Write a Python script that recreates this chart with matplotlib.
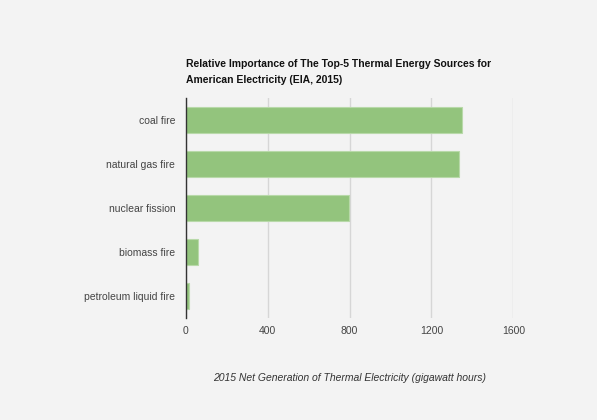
import matplotlib
matplotlib.use("Agg")
import matplotlib.pyplot as plt

plt.rcParams['font.family'] = ['Liberation Sans', 'DejaVu Sans']

# data (gigawatt hours)
sources = ["coal fire", "natural gas fire", "nuclear fission", "biomass fire", "petroleum liquid fire"]
generation = [1350, 1333, 795, 61, 16]
x_ticks = [0, 400, 800, 1200, 1600]

bg = '#f3f3f3'
fs = 7.5
fig = plt.figure(figsize=(5.97, 4.2), dpi=100, facecolor=bg)
ax = fig.add_axes([0.311, 0.243, 0.549, 0.523], facecolor=bg)

pos = list(range(len(sources)))
ax.barh(pos, generation, height=0.6, color='#93c47d', edgecolor='#b8d9a9', linewidth=0.8, zorder=3)

ax.set_ylim(len(sources) - 0.5, -0.5)
ax.set_xlim(0, 1600)
ax.set_yticks(pos)
ax.set_yticklabels(sources, fontsize=fs, color='#444444')
ax.set_xticks(x_ticks)
ax.set_xticklabels([str(t) for t in x_ticks], fontsize=fs, color='#444444')
ax.tick_params(axis='y', length=0, pad=7.5)
ax.tick_params(axis='x', length=0, pad=6)

# grid
ax.grid(axis='x', color='#d6d6d6', linewidth=1, zorder=0)
for s in ['top', 'right', 'bottom']:
    ax.spines[s].set_visible(False)
ax.spines['left'].set_color('#333333')
ax.spines['left'].set_linewidth(1)
ax.spines['left'].set_zorder(4)

fig.text(0.311, 0.859, "Relative Importance of The Top-5 Thermal Energy Sources for\nAmerican Electricity (EIA, 2015)",
         fontsize=fs, fontweight='bold', color='#111111', ha='left', va='top', linespacing=1.75)

fig.text(0.5855, 0.1, "2015 Net Generation of Thermal Electricity (gigawatt hours)",
         fontsize=fs, style='italic', color='#333333', ha='center', va='center')

fig.savefig('out.png', dpi=100, facecolor=bg)
